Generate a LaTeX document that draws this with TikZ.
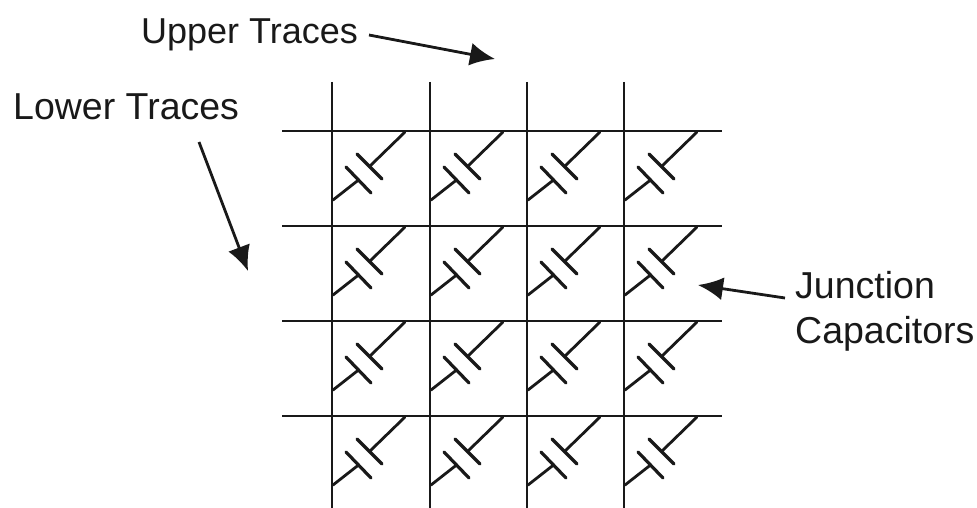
\documentclass[tikz,border=0pt]{standalone}
\usepackage{fontspec}
\setmainfont{Liberation Sans}
\usetikzlibrary{arrows.meta}
\definecolor{ink}{gray}{0.1}
\tikzset{
  trace/.style={draw=ink,line width=2.8pt},
  capwire/.style={draw=ink,line width=2.8pt,line cap=round},
  plate/.style={draw=ink,line width=3.2pt,line cap=round},
  pointer/.style={draw=ink,line width=2.8pt,-{Latex[length=25pt,width=23pt]}},
  lbl/.style={text=ink,font=\fontsize{37.5}{44}\selectfont,inner sep=0pt,anchor=base west,align=left}
}
\begin{document}
\begin{tikzpicture}[x=1pt,y=-1pt]
\useasboundingbox (0,0) rectangle (977,508);
\foreach \x [count=\i] in {332,430,527,624}{
  \coordinate (vt\i) at (\x,82);
  \coordinate (vb\i) at (\x,508);
  \draw[trace] (vt\i) -- (vb\i);
}
\foreach \y [count=\j] in {131,226,321,416}{
  \coordinate (hl\j) at (282,\y);
  \coordinate (hr\j) at (722,\y);
  \draw[trace] (hl\j) -- (hr\j);
}
\foreach \x [count=\i] in {332,430,527,624}{
  \foreach \y [count=\j] in {131,226,321,416}{
    \begin{scope}[shift={(\x,\y)}]
      \coordinate (lo\i\j) at (1,69);
      \coordinate (pa\i\j) at (26.5,49);
      \coordinate (pb\i\j) at (37.5,35.5);
      \coordinate (up\i\j) at (73,1);
      \draw[capwire] (lo\i\j) -- (pa\i\j);
      \draw[capwire] (pb\i\j) -- (up\i\j);
      \draw[plate] (14,36) -- (39,62);
      \draw[plate] (25,23) -- (50,48);
    \end{scope}
  }
}
\node[lbl,font=\fontsize{36}{44}\selectfont] (upper) at (141,44) {Upper Traces};
\node[lbl] (lower) at (13,120) {Lower Traces};
\node[lbl] (junction) at (795,298) {Junction};
\node[lbl] (caps) at (795,343) {Capacitors};
\coordinate (uppertail) at (369,35);
\coordinate (uppertip) at (495,59);
\coordinate (lowertail) at (199,142);
\coordinate (lowertip) at (248,271);
\coordinate (junctail) at (785,298);
\coordinate (junctip) at (698,285);
\draw[pointer] (uppertail) -- (uppertip);
\draw[pointer] (lowertail) -- (lowertip);
\draw[pointer] (junctail) -- (junctip);
\end{tikzpicture}
\end{document}
